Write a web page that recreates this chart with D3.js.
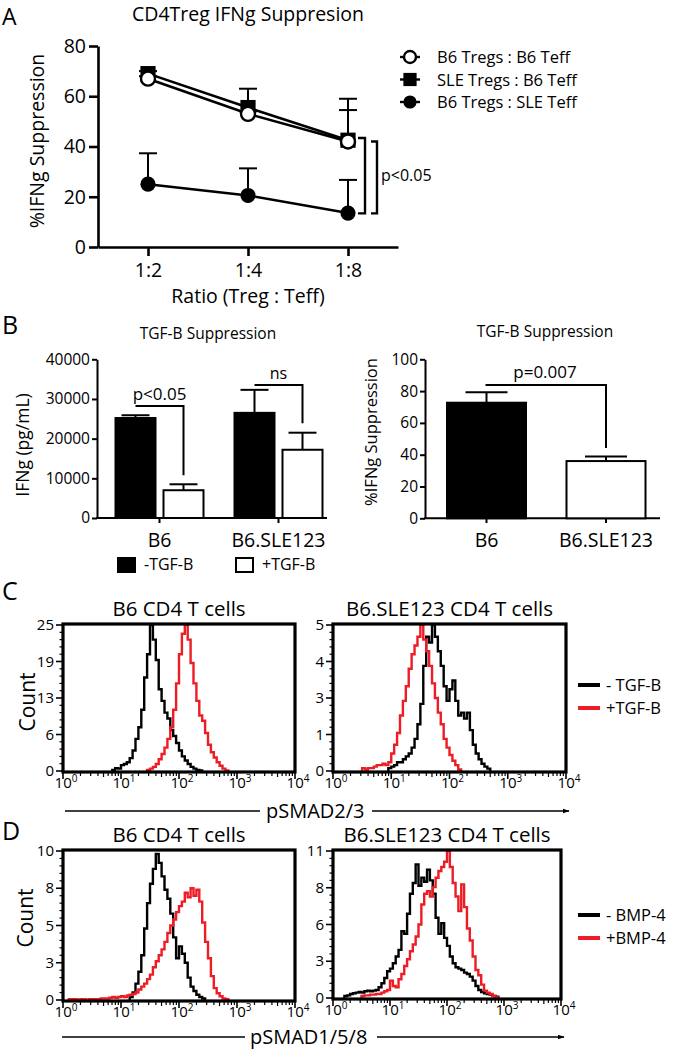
<!DOCTYPE html>
<html><head><meta charset="utf-8">
<script src="https://cdn.jsdelivr.net/npm/d3@7"></script>
<style>
body{margin:0;background:#fff}
svg{display:block}
text{font-family:"Open Sans",sans-serif;fill:#000}
</style>
</head><body>
<svg id="c" width="685" height="1050"></svg>
<script>
// ================= DATA =================
// Panel A
const ratios = ["1:2", "1:4", "1:8"];
const seriesA = ["B6 Tregs : B6 Teff", "SLE Tregs : B6 Teff", "B6 Tregs : SLE Teff"];
const aB6TregB6Teff = [67, 53, 42];
const aB6TregB6TeffErr = [1, 1, 12.5];
const aSLETregB6Teff = [69, 55.5, 42.5];
const aSLETregB6TeffErr = [1, 7.5, 16.5];
const aB6TregSLETeff = [25, 20.5, 13.5];
const aB6TregSLETeffErr = [12.3, 10.8, 13.2];
const aYTicks = [0, 20, 40, 60, 80];
const aSigLevels = [[43.4, 13.4], [42, 13.4]];

// Panel B
const bGroups = ["B6", "B6.SLE123"];
const bTreatments = ["-TGF-B", "+TGF-B"];
const bIFNgMinus = [25200, 26500];
const bIFNgMinusErr = [700, 5800];
const bIFNgPlus = [7000, 17200];
const bIFNgPlusErr = [1500, 4300];
const bIFNgTicks = [0, 10000, 20000, 30000, 40000];
const bIFNgSig = [["p<0.05", 28200, 10800], ["ns", 33500, 23900]];
const bSupp = [72.7, 36];
const bSuppErr = [6.5, 2.8];
const bSuppTicks = [0, 20, 40, 60, 80, 100];
const bSuppSig = ["p=0.007", 83.8, 44.2];

// Panels C / D : flow histograms (log10 bins of 0.05 decade)
const binWidth = 0.05;
const flowXExp = [0, 1, 2, 3, 4];
const cB6TickLabels = ["0", "6", "13", "19", "25"], cB6Max = 25;
const cSLETickLabels = ["0", "1", "3", "4", "5"], cSLEMax = 5;
const dB6TickLabels = ["0", "3", "5", "8", "10"], dB6Max = 10;
const dSLETickLabels = ["0", "3", "6", "8", "11"], dSLEMax = 11;

const cB6MinusStart = 0.85;
const cB6Minus = [0.2,0.5,0.4,1.0,1.2,1.5,2.2,3.5,5.5,7.5,10.5,16,20,25,22.5,19,14,12,10,9,7,6,4.8,3.5,2.5,1.8,1.2,0.7,0.4,0.2,0.1];
const cB6PlusStart = 1.45;
const cB6Plus = [0.2,0.4,0.7,1.2,2.0,2.9,4.0,5.5,7.5,10.5,15,20,23.5,25,22.5,18.5,15,12,9.5,8.6,6.5,4.5,3.2,2.3,1.5,0.9,0.4,0.1];
const cSLEMinusStart = 0.95;
const cSLEMinus = [0.1,0.15,0.2,0.3,0.3,0.4,0.5,0.6,0.8,1.1,1.6,2.3,3.6,4.6,4.4,5.0,4.6,4.1,3.6,2.9,2.4,2.8,3.1,2.4,1.9,2.0,1.8,2.0,1.4,0.9,0.6,0.4,0.25,0.15,0.08];
const cSLEPlusStart = 0.50;
const cSLEPlus = [0.1,0.05,0.1,0.1,0.15,0.2,0.2,0.25,0.2,0.3,0.6,0.9,1.3,1.9,2.4,2.9,3.5,4.0,4.3,4.6,5.0,4.5,4.1,3.6,3.0,2.5,2.0,1.6,1.1,0.8,0.55,0.35,0.2,0.05];
const dB6MinusStart = 1.15;
const dB6Minus = [0.2,0.5,1.1,1.9,3.0,4.8,6.5,7.8,8.8,9.8,9.2,8.3,7.4,6.8,5.8,4.2,2.8,3.6,3.1,2.5,1.5,0.9,0.6,0.35,0.2,0.1];
const dB6PlusStart = 0.10;
const dB6Plus = [0.05,0.05,0.05,0,0.05,0.05,0,0.05,0.05,0.05,0.05,0.1,0.1,0.1,0.15,0.2,0.15,0.2,0.25,0.2,0.3,0.35,0.4,0.5,0.7,0.9,1.1,1.4,1.7,2.2,2.6,3.0,3.4,3.9,4.5,5.0,5.4,5.9,6.3,6.6,7.2,6.9,7.5,7.0,7.4,6.6,5.2,3.9,2.8,1.6,0.8,0.45,0.25,0.1,0.05];
const dSLEMinusStart = 0.20;
const dSLEMinus = [0.15,0.2,0.3,0.35,0.4,0.45,0.4,0.5,0.55,0.5,0.55,0.6,0.8,1.1,1.5,2.0,2.2,2.6,3.1,3.6,5.0,4.8,6.3,7.8,8.6,10.0,8.4,9.0,8.7,9.6,8.8,7.8,6.0,4.8,5.6,4.5,3.9,3.1,2.6,2.3,2.2,2.1,1.9,1.8,1.6,1.3,0.9,0.6,0.45,0.35,0.3,0.25,0.15,0.1];
const dSLEPlusStart = 0.50;
const dSLEPlus = [0.15,0.2,0.2,0.25,0.25,0.3,0.3,0.4,0.5,0.6,1.3,0.9,0.8,1.4,1.8,2.4,2.9,3.5,4.0,4.6,5.5,7.0,7.8,8.0,7.6,8.3,9.0,9.5,9.8,10.2,11.0,9.8,8.6,7.6,6.5,8.5,6.8,5.2,4.3,3.1,2.1,1.7,1.0,0.55,0.4,0.3,0.15,0.05];

// ================= DRAWING =================
const svg = d3.select("#c");
const RED = "#ee1c24";

function label(g, x, y, s, size, anchor, rot) {
  const t = g.append("text").attr("x", x).attr("y", y).text(s)
    .attr("font-size", size).attr("text-anchor", anchor || "start");
  if (rot) t.attr("transform", `rotate(-90,${x},${y})`);
  return t;
}
function styleAxis(sel, size, sw) {
  sel.attr("font-family", '"Open Sans", sans-serif').attr("font-size", size);
  sel.selectAll("path.domain").attr("stroke", "#000").attr("stroke-width", sw);
  sel.selectAll(".tick line").attr("stroke", "#000").attr("stroke-width", sw);
  sel.selectAll(".tick text").attr("fill", "#000");
}

// ---------- Panel A ----------
{
  const g = svg.append("g");
  const x = d3.scalePoint().domain(ratios).range([98, 398]).padding(0.5);
  const y = d3.scaleLinear().domain([0, 80]).range([247, 46]);
  label(g, 2, 25, "A", 23);
  label(g, 248, 21, "CD4Treg IFNg Suppresion", 19.5, "middle");
  const ya = g.append("g").attr("transform", "translate(98,0)")
    .call(d3.axisLeft(y).tickValues(aYTicks).tickSize(9).tickSizeOuter(0).tickPadding(3));
  styleAxis(ya, 19.5, 2.6);
  const xa = g.append("g").attr("transform", "translate(0,247)")
    .call(d3.axisBottom(x).tickSize(9).tickSizeOuter(0).tickPadding(7));
  styleAxis(xa, 19.5, 2.6);
  label(g, 248, 303, "Ratio (Treg : Teff)", 19.5, "middle");
  label(g, 44, 141, "%IFNg Suppression", 19.5, "middle", true);

  const series = [
    {v: aSLETregB6Teff, e: aSLETregB6TeffErr, m: "square"},
    {v: aB6TregB6Teff, e: aB6TregB6TeffErr, m: "open"},
    {v: aB6TregSLETeff, e: aB6TregSLETeffErr, m: "filled"}
  ];
  const line = d3.line().x((d, i) => x(ratios[i])).y(d => y(d));
  series.forEach(s => {
    s.v.forEach((v, i) => {
      const cx = x(ratios[i]);
      g.append("line").attr("x1", cx).attr("x2", cx).attr("y1", y(v)).attr("y2", y(v + s.e[i]))
        .attr("stroke", "#000").attr("stroke-width", 2);
      g.append("line").attr("x1", cx - 9).attr("x2", cx + 9).attr("y1", y(v + s.e[i])).attr("y2", y(v + s.e[i]))
        .attr("stroke", "#000").attr("stroke-width", 2);
    });
  });
  series.forEach(s => {
    g.append("path").attr("d", line(s.v)).attr("fill", "none").attr("stroke", "#000").attr("stroke-width", 2.6);
  });
  function marker(cx, cy, type, r) {
    if (type === "square") g.append("rect").attr("x", cx - r).attr("y", cy - r).attr("width", 2 * r).attr("height", 2 * r).attr("fill", "#000");
    else g.append("circle").attr("cx", cx).attr("cy", cy).attr("r", type === "open" ? r - 0.6 : r)
      .attr("fill", type === "open" ? "#fff" : "#000").attr("stroke", "#000").attr("stroke-width", type === "open" ? 2.4 : 0);
  }
  series.forEach(s => s.v.forEach((v, i) => marker(x(ratios[i]), y(v), s.m, 7.6)));

  const bx = [[358, 365], [371, 377]];
  aSigLevels.forEach((lv, k) => {
    g.append("path").attr("d", `M${bx[k][0]},${y(lv[0])}H${bx[k][1]}V${y(lv[1])}H${bx[k][0]}`)
      .attr("fill", "none").attr("stroke", "#000").attr("stroke-width", 2.4);
  });
  label(g, 381, 181, "p<0.05", 16);

  const legTypes = ["open", "square", "filled"];
  const legY = [57, 79.5, 102];
  seriesA.forEach((name, i) => {
    g.append("line").attr("x1", 400).attr("x2", 420).attr("y1", legY[i]).attr("y2", legY[i]).attr("stroke", "#000").attr("stroke-width", 2.4);
    marker(410, legY[i], legTypes[i], 6.6);
    label(g, 437, legY[i] + 6, name, 16.5);
  });
}

// ---------- Panel B left ----------
{
  const g = svg.append("g");
  const y = d3.scaleLinear().domain([0, 40000]).range([518, 359.3]);
  const x = d3.scalePoint().domain(bGroups).range([159.5, 278.5]);
  label(g, 2, 334, "B", 25);
  label(g, 208, 339, "TGF-B Suppression", 15.5, "middle");
  const ya = g.append("g").attr("transform", "translate(97,0)")
    .call(d3.axisLeft(y).tickValues(bIFNgTicks).tickFormat(d3.format("d")).tickSize(5).tickSizeOuter(0).tickPadding(2));
  styleAxis(ya, 15.5, 2);
  g.append("line").attr("x1", 96).attr("x2", 327).attr("y1", 518).attr("y2", 518).attr("stroke", "#000").attr("stroke-width", 2);
  bGroups.forEach(gr => {
    g.append("line").attr("x1", x(gr)).attr("x2", x(gr)).attr("y1", 518).attr("y2", 523).attr("stroke", "#000").attr("stroke-width", 2);
    label(g, x(gr), 547, gr, 19.5, "middle");
  });
  label(g, 29, 445, "IFNg (pg/mL)", 17.5, "middle", true);

  const bars = [
    {v: bIFNgMinus, e: bIFNgMinusErr, off: -45, fill: "#000"},
    {v: bIFNgPlus, e: bIFNgPlusErr, off: 3, fill: "#fff"}
  ];
  bars.forEach(b => b.v.forEach((v, i) => {
    const x0 = x(bGroups[i]) + b.off, cx = x0 + 21;
    g.append("line").attr("x1", cx).attr("x2", cx).attr("y1", y(v)).attr("y2", y(v + b.e[i])).attr("stroke", "#000").attr("stroke-width", 2);
    g.append("line").attr("x1", cx - 14).attr("x2", cx + 14).attr("y1", y(v + b.e[i])).attr("y2", y(v + b.e[i])).attr("stroke", "#000").attr("stroke-width", 2);
    g.append("rect").attr("x", x0 + 1).attr("y", y(v)).attr("width", 40).attr("height", y(0) - y(v))
      .attr("fill", b.fill).attr("stroke", "#000").attr("stroke-width", 2);
  }));
  bIFNgSig.forEach((s, i) => {
    const xl = x(bGroups[i]) - 24, xr = x(bGroups[i]) + 24;
    g.append("path").attr("d", `M${xl},${y(s[1])}H${xr}V${y(s[2])}`).attr("fill", "none").attr("stroke", "#000").attr("stroke-width", 2);
    label(g, (xl + xr) / 2, y(s[1]) - 6, s[0], i === 0 ? 17 : 16, "middle");
  });

  g.append("rect").attr("x", 117).attr("y", 557).attr("width", 19).attr("height", 16).attr("fill", "#000");
  label(g, 144, 570, bTreatments[0], 16);
  g.append("rect").attr("x", 236).attr("y", 558).attr("width", 17).attr("height", 14).attr("fill", "#fff").attr("stroke", "#000").attr("stroke-width", 2);
  label(g, 262, 570, bTreatments[1], 16);
}

// ---------- Panel B right ----------
{
  const g = svg.append("g");
  const y = d3.scaleLinear().domain([0, 100]).range([518.3, 359.3]);
  const x = d3.scalePoint().domain(bGroups).range([486.5, 606]);
  label(g, 545, 337, "TGF-B Suppression", 15.5, "middle");
  const ya = g.append("g").attr("transform", "translate(425,0)")
    .call(d3.axisLeft(y).tickValues(bSuppTicks).tickSize(5).tickSizeOuter(0).tickPadding(2));
  styleAxis(ya, 15.5, 2);
  g.append("line").attr("x1", 424).attr("x2", 660).attr("y1", 518.3).attr("y2", 518.3).attr("stroke", "#000").attr("stroke-width", 2);
  bGroups.forEach(gr => {
    g.append("line").attr("x1", x(gr)).attr("x2", x(gr)).attr("y1", 518).attr("y2", 523).attr("stroke", "#000").attr("stroke-width", 2);
    label(g, x(gr), 547, gr, 19.5, "middle");
  });
  label(g, 377, 432, "%IFNg Suppression", 16.5, "middle", true);
  const fills = ["#000", "#fff"];
  bSupp.forEach((v, i) => {
    const cx = x(bGroups[i]);
    g.append("line").attr("x1", cx).attr("x2", cx).attr("y1", y(v)).attr("y2", y(v + bSuppErr[i])).attr("stroke", "#000").attr("stroke-width", 2);
    g.append("line").attr("x1", cx - 21).attr("x2", cx + 21).attr("y1", y(v + bSuppErr[i])).attr("y2", y(v + bSuppErr[i])).attr("stroke", "#000").attr("stroke-width", 2);
    g.append("rect").attr("x", cx - 39.5).attr("y", y(v)).attr("width", 79).attr("height", y(0) - y(v))
      .attr("fill", fills[i]).attr("stroke", "#000").attr("stroke-width", 2);
  });
  const xl = x(bGroups[0]) - 1, xr = x(bGroups[1]);
  g.append("path").attr("d", `M${xl},${y(bSuppSig[1])}H${xr}V${y(bSuppSig[2])}`).attr("fill", "none").attr("stroke", "#000").attr("stroke-width", 2);
  label(g, 545, 378, bSuppSig[0], 17, "middle");
}

// ---------- Flow panels ----------
svg.append("defs").append("marker").attr("id", "arr").attr("viewBox", "0 0 10 10")
  .attr("refX", 9).attr("refY", 5).attr("markerWidth", 7).attr("markerHeight", 7).attr("markerUnits", "userSpaceOnUse")
  .attr("orient", "auto").append("path").attr("d", "M0,1.5L10,5L0,8.5Z").attr("fill", "#000");

let clipId = 0;
function flowPlot(cfg) {
  const g = svg.append("g");
  const x = d3.scaleLog().domain([1, 10000]).range([cfg.x0, cfg.x1]);
  const y = d3.scaleLinear().domain([0, cfg.max]).range([cfg.y1 - 1, cfg.y0 + 1]);
  label(g, (cfg.x0 + cfg.x1) / 2, cfg.y0 - 8, cfg.title, 20.5, "middle");
  const id = "clip" + (clipId++);
  svg.select("defs").append("clipPath").attr("id", id).append("rect")
    .attr("x", cfg.x0).attr("y", cfg.y0).attr("width", cfg.x1 - cfg.x0).attr("height", cfg.y1 - cfg.y0);
  const line = d3.line().x(d => x(Math.pow(10, d[0]))).y(d => y(d[1])).curve(d3.curveStepAfter);
  cfg.curves.forEach(c => {
    const pts = [[c.start, 0]];
    c.values.forEach((v, i) => pts.push([c.start + i * binWidth, v]));
    pts.push([c.start + c.values.length * binWidth, 0]);
    g.append("path").attr("d", line(pts)).attr("fill", "none").attr("stroke", c.color)
      .attr("stroke-width", 2.4).attr("stroke-linejoin", "miter").attr("clip-path", `url(#${id})`);
  });
  g.append("rect").attr("x", cfg.x0).attr("y", cfg.y0).attr("width", cfg.x1 - cfg.x0).attr("height", cfg.y1 - cfg.y0)
    .attr("fill", "none").attr("stroke", "#000").attr("stroke-width", 3.2);
  for (let j = 0; j <= 20; j++) {
    const yy = y(cfg.max * j / 20), major = j % 5 === 0;
    g.append("line").attr("x1", cfg.x0).attr("x2", cfg.x0 - (major ? 7 : 3.5)).attr("y1", yy).attr("y2", yy)
      .attr("stroke", "#000").attr("stroke-width", major ? 1.6 : 1.2);
    if (major) label(g, cfg.x0 - 9, yy + 5, cfg.ticks[j / 5], 15, "end");
  }
  flowXExp.forEach(e => {
    const xx = x(Math.pow(10, e));
    g.append("line").attr("x1", xx).attr("x2", xx).attr("y1", cfg.y1).attr("y2", cfg.y1 + 7).attr("stroke", "#000").attr("stroke-width", 1.6);
    const t = g.append("text").attr("x", xx + 3).attr("y", cfg.y1 + 16).attr("font-size", 15).attr("text-anchor", "middle");
    t.append("tspan").text("10");
    t.append("tspan").text(String(e)).attr("font-size", 10).attr("dy", -6);
    if (e < 4) for (let m = 2; m <= 9; m++) {
      const xm = x(m * Math.pow(10, e));
      g.append("line").attr("x1", xm).attr("x2", xm).attr("y1", cfg.y1).attr("y2", cfg.y1 + (m === 5 ? 5 : 4))
        .attr("stroke", "#000").attr("stroke-width", 1.2);
    }
  });
}

function flowLegend(y0, dy, names) {
  const g = svg.append("g");
  [["#000", names[0]], [RED, names[1]]].forEach((d, i) => {
    g.append("line").attr("x1", 578).attr("x2", 600).attr("y1", y0 + i * dy).attr("y2", y0 + i * dy).attr("stroke", d[0]).attr("stroke-width", 4);
    label(g, 606, y0 + i * dy + 6, d[1], 16.5);
  });
}
function axisArrow(y, text, tx, l0, l1, r0, r1) {
  const g = svg.append("g");
  g.append("line").attr("x1", l0).attr("x2", l1).attr("y1", y).attr("y2", y).attr("stroke", "#000").attr("stroke-width", 1.4);
  g.append("line").attr("x1", r0).attr("x2", r1).attr("y1", y).attr("y2", y).attr("stroke", "#000").attr("stroke-width", 1.4).attr("marker-end", "url(#arr)");
  label(g, tx, y + 7, text, 20);
}

// Panel C
label(svg, 2, 600, "C", 25);
flowPlot({x0: 63, x1: 295, y0: 624, y1: 772, max: cB6Max, ticks: cB6TickLabels, title: "B6 CD4 T cells",
  curves: [{start: cB6MinusStart, values: cB6Minus, color: "#000"}, {start: cB6PlusStart, values: cB6Plus, color: RED}]});
flowPlot({x0: 333, x1: 566, y0: 624, y1: 772, max: cSLEMax, ticks: cSLETickLabels, title: "B6.SLE123 CD4 T cells",
  curves: [{start: cSLEMinusStart, values: cSLEMinus, color: "#000"}, {start: cSLEPlusStart, values: cSLEPlus, color: RED}]});
label(svg, 35, 702, "Count", 21, "middle", true);
flowLegend(685, 23, ["- TGF-B", "+TGF-B"]);
axisArrow(811, "pSMAD2/3", 266, 65, 260, 372, 569);

// Panel D
label(svg, 2, 840, "D", 25);
flowPlot({x0: 63, x1: 295, y0: 850, y1: 1001, max: dB6Max, ticks: dB6TickLabels, title: "B6 CD4 T cells",
  curves: [{start: dB6MinusStart, values: dB6Minus, color: "#000"}, {start: dB6PlusStart, values: dB6Plus, color: RED}]});
flowPlot({x0: 333, x1: 561, y0: 850, y1: 999, max: dSLEMax, ticks: dSLETickLabels, title: "B6.SLE123 CD4 T cells",
  curves: [{start: dSLEMinusStart, values: dSLEMinus, color: "#000"}, {start: dSLEPlusStart, values: dSLEPlus, color: RED}]});
label(svg, 33, 918, "Count", 21, "middle", true);
flowLegend(915, 23, ["- BMP-4", "+BMP-4"]);
axisArrow(1037, "pSMAD1/5/8", 250, 62, 245, 377, 564);
</script>
</body></html>
